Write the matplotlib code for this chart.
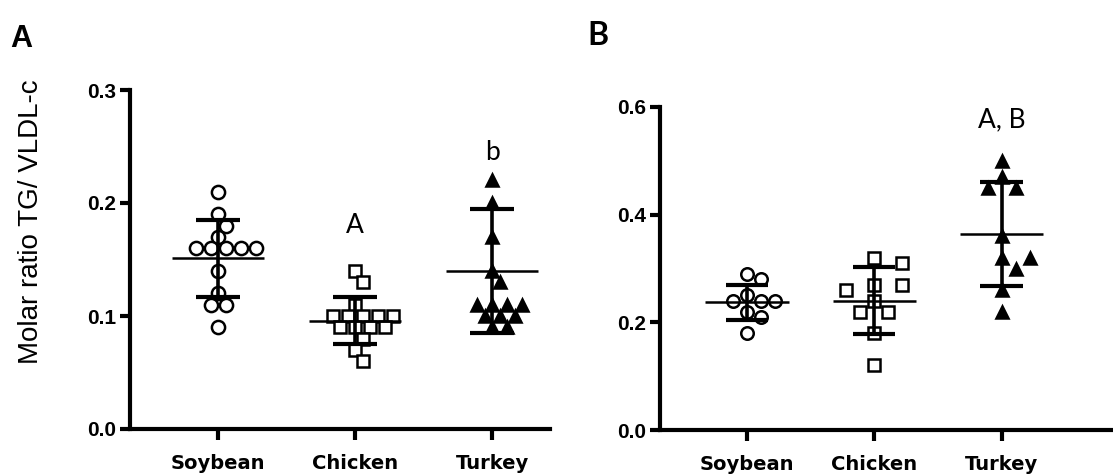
import numpy as np
import matplotlib
matplotlib.use("Agg")
import matplotlib.pyplot as plt

# ---- data ----------------------------------------------------------------
groups = ["Soybean", "Chicken", "Turkey"]

# Panel A: molar ratio TG / VLDL-c per animal
a_soybean = [0.21, 0.19, 0.18, 0.17, 0.16, 0.16, 0.16, 0.16, 0.16,
             0.14, 0.12, 0.11, 0.11, 0.09]
a_chicken = [0.14, 0.13, 0.11, 0.10, 0.10, 0.10, 0.10, 0.10,
             0.09, 0.09, 0.09, 0.09, 0.08, 0.07, 0.06]
a_turkey = [0.22, 0.20, 0.17, 0.14, 0.13, 0.11, 0.11, 0.11, 0.11,
            0.10, 0.10, 0.10, 0.09, 0.09]
a_mean = [0.151, 0.096, 0.140]
a_sd = [0.034, 0.021, 0.055]
a_letters = ["", "A", "b"]
a_letter_y = [None, 0.180, 0.245]

# Panel B
b_soybean = [0.29, 0.28, 0.25, 0.24, 0.24, 0.24, 0.22, 0.21, 0.18]
b_chicken = [0.32, 0.31, 0.27, 0.27, 0.26, 0.24, 0.22, 0.22, 0.18, 0.12]
b_turkey = [0.50, 0.47, 0.45, 0.45, 0.36, 0.32, 0.32, 0.30, 0.26, 0.22]
b_mean = [0.2375, 0.2405, 0.3645]
b_sd = [0.0325, 0.0615, 0.097]
b_letters = ["", "", "A, B"]
b_letter_y = [None, None, 0.577]

a_ticks = [0.0, 0.1, 0.2, 0.3]
b_ticks = [0.0, 0.2, 0.4, 0.6]

# ---- styling --------------------------------------------------------------
W, H, DPI = 1113, 475, 100
fig = plt.figure(figsize=(W / DPI, H / DPI), dpi=DPI)

TICK_FONT = dict(family="Liberation Sans", size=15, weight="bold")
CAT_FONT = dict(family="DejaVu Sans", size=14, weight="bold")
NOTE_FONT = dict(family="Lato", size=19)

marker_styles = [
    dict(marker="o", mfc="white", mec="black"),
    dict(marker="s", mfc="white", mec="black"),
    dict(marker="^", mfc="black", mec="black"),
]


def beeswarm(ax, x0, values, dx_px, dy_px):
    """Greedy swarm layout: each point goes to the nearest offset (in
    half-spacing steps) that keeps an elliptical clearance dx_px x dy_px."""
    tr = ax.transData
    inv = tr.inverted()
    placed = []
    xs = np.zeros(len(values))
    order = np.argsort(values, kind="stable")[::-1]
    steps = [0]
    for k in range(1, 30):
        steps += [k, -k]
    for i in order:
        px0, py = tr.transform((x0, values[i]))
        for k in steps:
            ox = k * dx_px / 2.0
            if all(((ox - qx) / dx_px) ** 2 + ((py - qy) / dy_px) ** 2 >= 0.999
                   for qx, qy in placed):
                placed.append((ox, py))
                xs[i] = inv.transform((px0 + ox, py))[0]
                break
    return xs


def panel(rect, xlim, ylim, ticks, series, means, sds, letters, letter_y,
          sizes, spread, mean_half, cap_half):
    ax = fig.add_axes(rect)
    ax.set_xlim(*xlim)
    ax.set_ylim(*ylim)
    for s in ("top", "right"):
        ax.spines[s].set_visible(False)
    for s in ("left", "bottom"):
        ax.spines[s].set_linewidth(3.0)
    ax.set_yticks(ticks)
    ax.set_yticklabels([f"{t:.1f}" for t in ticks], fontdict=TICK_FONT)
    ax.set_xticks([1, 2, 3])
    ax.set_xticklabels(groups, fontdict=CAT_FONT)
    ax.tick_params(axis="y", length=7, width=3, pad=3)
    ax.tick_params(axis="x", length=8, width=3, pad=10)

    for i, vals in enumerate(series):
        x0 = i + 1
        xs = beeswarm(ax, x0, vals, spread[i], 12)
        ax.plot(xs, vals, ls="none", ms=sizes[i], mew=1.8, zorder=3,
                clip_on=False, **marker_styles[i])
        m, sd = means[i], sds[i]
        ax.plot([x0 - mean_half, x0 + mean_half], [m, m], color="black",
                lw=1.8, zorder=4, solid_capstyle="butt")
        ax.plot([x0, x0], [m - sd, m + sd], color="black", lw=2.6, zorder=4,
                solid_capstyle="butt")
        for yv in (m - sd, m + sd):
            ax.plot([x0 - cap_half, x0 + cap_half], [yv, yv], color="black",
                    lw=3.0, zorder=4, solid_capstyle="butt")
        if letters[i]:
            ax.text(x0, letter_y[i], letters[i], ha="center", va="center",
                    **NOTE_FONT)
    return ax


ax_a = panel([130 / W, 1 - 429 / H, 420 / W, 339 / H],
             (0.357, 3.42), (0.0, 0.3), a_ticks,
             [a_soybean, a_chicken, a_turkey], a_mean, a_sd,
             a_letters, a_letter_y,
             sizes=[9.5, 8.0, 8.5], spread=[15, 15, 15],
             mean_half=0.336, cap_half=0.16)

ax_b = panel([660 / W, 1 - 430 / H, 453 / W, 323 / H],
             (0.317, 3.876), (0.0, 0.6), b_ticks,
             [b_soybean, b_chicken, b_turkey], b_mean, b_sd,
             b_letters, b_letter_y,
             sizes=[9.0, 8.0, 8.0], spread=[14, 28, 28],
             mean_half=0.327, cap_half=0.165)

fig.text(31 / W, 1 - 222 / H, "Molar ratio TG/ VLDL-c", rotation=90,
         ha="center", va="center", family="Liberation Sans", size=20)
fig.text(10 / W, 1 - 47 / H, "A", ha="left", va="baseline",
         family="Liberation Sans", weight="bold", size=22)
fig.text(587 / W, 1 - 45 / H, "B", ha="left", va="baseline",
         family="Lato", weight="bold", size=23)

fig.savefig("out.png", dpi=DPI)
